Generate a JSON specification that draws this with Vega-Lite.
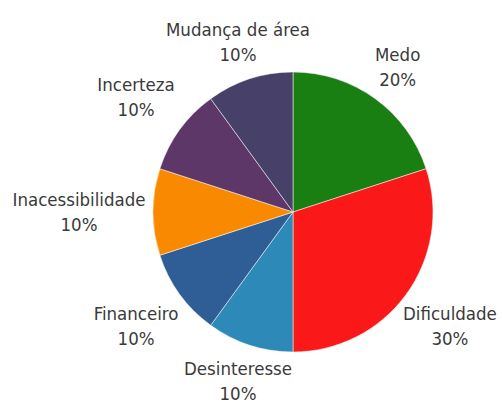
{
  "$schema": "https://vega.github.io/schema/vega-lite/v6.json",
  "width": 418,
  "height": 382,
  "padding": {"left": 84, "top": 21, "right": 0, "bottom": 0},
  "autosize": {"type": "none"},
  "background": "white",
  "view": {"stroke": null},
  "data": {
    "values": [
      {"idx": 1, "name": "Medo", "share": 0.2},
      {"idx": 2, "name": "Dificuldade", "share": 0.3},
      {"idx": 3, "name": "Desinteresse", "share": 0.1},
      {"idx": 4, "name": "Financeiro", "share": 0.1},
      {"idx": 5, "name": "Inacessibilidade", "share": 0.1},
      {"idx": 6, "name": "Incerteza", "share": 0.1},
      {"idx": 7, "name": "Mudança de área", "share": 0.1}
    ]
  },
  "encoding": {
    "theta": {"field": "share", "type": "quantitative", "stack": true},
    "order": {"field": "idx", "type": "quantitative"}
  },
  "layer": [
    {
      "mark": {"type": "arc", "outerRadius": 140, "stroke": "#ffffff", "strokeWidth": 0.5},
      "encoding": {
        "color": {
          "field": "name",
          "type": "nominal",
          "legend": null,
          "scale": {
            "domain": ["Medo", "Dificuldade", "Desinteresse", "Financeiro", "Inacessibilidade", "Incerteza", "Mudança de área"],
            "range": ["#1a7f12", "#fb1818", "#2d89b8", "#2f5d95", "#f98a00", "#5e3769", "#47416a"]
          }
        }
      }
    },
    {
      "mark": {"type": "text", "radius": 178, "font": "DejaVu Sans Condensed, Liberation Sans Narrow, Roboto", "fontSize": 18.5, "color": "#3a3a3a", "dy": -12.5, "baseline": "middle", "align": "center"},
      "encoding": {
        "text": {"condition": {"test": "indexof(['Medo','Desinteresse','Mudança de área'], datum.name) >= 0", "field": "name", "type": "nominal"}, "value": ""}
      }
    },
    {
      "mark": {"type": "text", "radius": 178, "font": "DejaVu Sans Condensed, Liberation Sans Narrow, Roboto", "fontSize": 18.5, "color": "#3a3a3a", "dy": 12.5, "baseline": "middle", "align": "center"},
      "encoding": {
        "text": {"condition": {"test": "indexof(['Medo','Desinteresse','Mudança de área'], datum.name) >= 0", "field": "share", "type": "quantitative", "format": ".0%"}, "value": ""}
      }
    },
    {
      "mark": {"type": "text", "radius": 194, "font": "DejaVu Sans Condensed, Liberation Sans Narrow, Roboto", "fontSize": 18.5, "color": "#3a3a3a", "dy": -12.5, "baseline": "middle", "align": "center"},
      "encoding": {
        "text": {"condition": {"test": "indexof(['Dificuldade','Financeiro','Incerteza'], datum.name) >= 0", "field": "name", "type": "nominal"}, "value": ""}
      }
    },
    {
      "mark": {"type": "text", "radius": 194, "font": "DejaVu Sans Condensed, Liberation Sans Narrow, Roboto", "fontSize": 18.5, "color": "#3a3a3a", "dy": 12.5, "baseline": "middle", "align": "center"},
      "encoding": {
        "text": {"condition": {"test": "indexof(['Dificuldade','Financeiro','Incerteza'], datum.name) >= 0", "field": "share", "type": "quantitative", "format": ".0%"}, "value": ""}
      }
    },
    {
      "mark": {"type": "text", "radius": 214, "font": "DejaVu Sans Condensed, Liberation Sans Narrow, Roboto", "fontSize": 18.5, "color": "#3a3a3a", "dy": -12.5, "baseline": "middle", "align": "center"},
      "encoding": {
        "text": {"condition": {"test": "datum.name === 'Inacessibilidade'", "field": "name", "type": "nominal"}, "value": ""}
      }
    },
    {
      "mark": {"type": "text", "radius": 214, "font": "DejaVu Sans Condensed, Liberation Sans Narrow, Roboto", "fontSize": 18.5, "color": "#3a3a3a", "dy": 12.5, "baseline": "middle", "align": "center"},
      "encoding": {
        "text": {"condition": {"test": "datum.name === 'Inacessibilidade'", "field": "share", "type": "quantitative", "format": ".0%"}, "value": ""}
      }
    }
  ]
}
